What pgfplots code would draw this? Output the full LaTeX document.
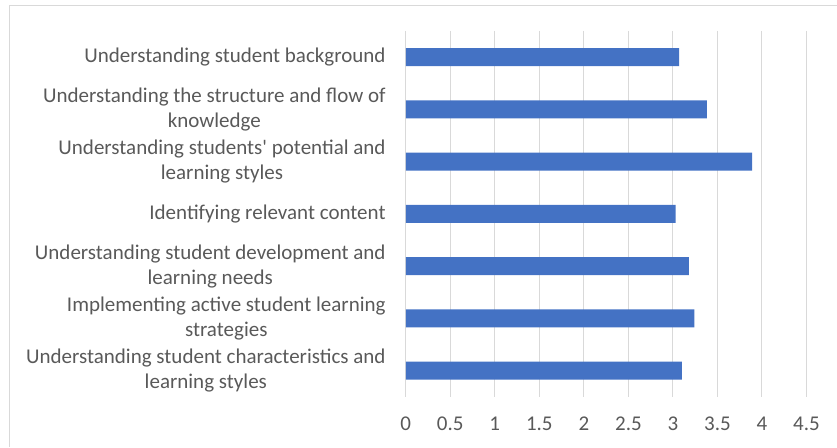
\documentclass[border=0pt]{standalone}
\usepackage{fontspec}
\setmainfont{Carlito}
\usepackage{pgfplots}
\pgfplotsset{compat=1.18}
\definecolor{barblue}{HTML}{4472C4}
\definecolor{txtgray}{HTML}{595959}
\definecolor{gridgray}{HTML}{D9D9D9}
\begin{document}
\begin{tikzpicture}
\path (0,0) rectangle (837bp,447bp);
\draw[gridgray, line width=1bp] (9.5bp,0) -- (9.5bp,441.5bp) -- (837bp,441.5bp);
\begin{axis}[
  at={(406bp,50bp)}, anchor=south west,
  scale only axis, width=401bp, height=366bp,
  xbar, bar width=18bp,
  xmin=0, xmax=4.5, ymin=0.5, ymax=7.5,
  y dir=reverse,
  xtick={0,0.5,...,4.5},
  ytick={1,...,7},
  yticklabels={
    {Understanding student background},
    {Understanding the structure and flow of\\knowledge},
    {Understanding students\textquotesingle{} potential and\\learning styles},
    {Identifying relevant content},
    {Understanding student development and\\learning needs},
    {Implementing active student learning\\strategies},
    {Understanding student characteristics and\\learning styles}},
  axis line style={draw=none},
  major tick length=0pt,
  xmajorgrids, grid style={gridgray, line width=1bp},
  /pgf/number format/assume math mode=true,
  tick label style={font=\fontsize{21.1}{25}\selectfont, text=txtgray},
  yticklabel style={align=center, inner sep=0pt, xshift=-20bp},
  xticklabel style={inner sep=0pt, yshift=-20bp},
]
\addplot[fill=barblue, draw=none] coordinates {
  (3.07,1) (3.38,2) (3.89,3) (3.03,4) (3.18,5) (3.24,6) (3.10,7)
};
\end{axis}
\end{tikzpicture}
\end{document}
